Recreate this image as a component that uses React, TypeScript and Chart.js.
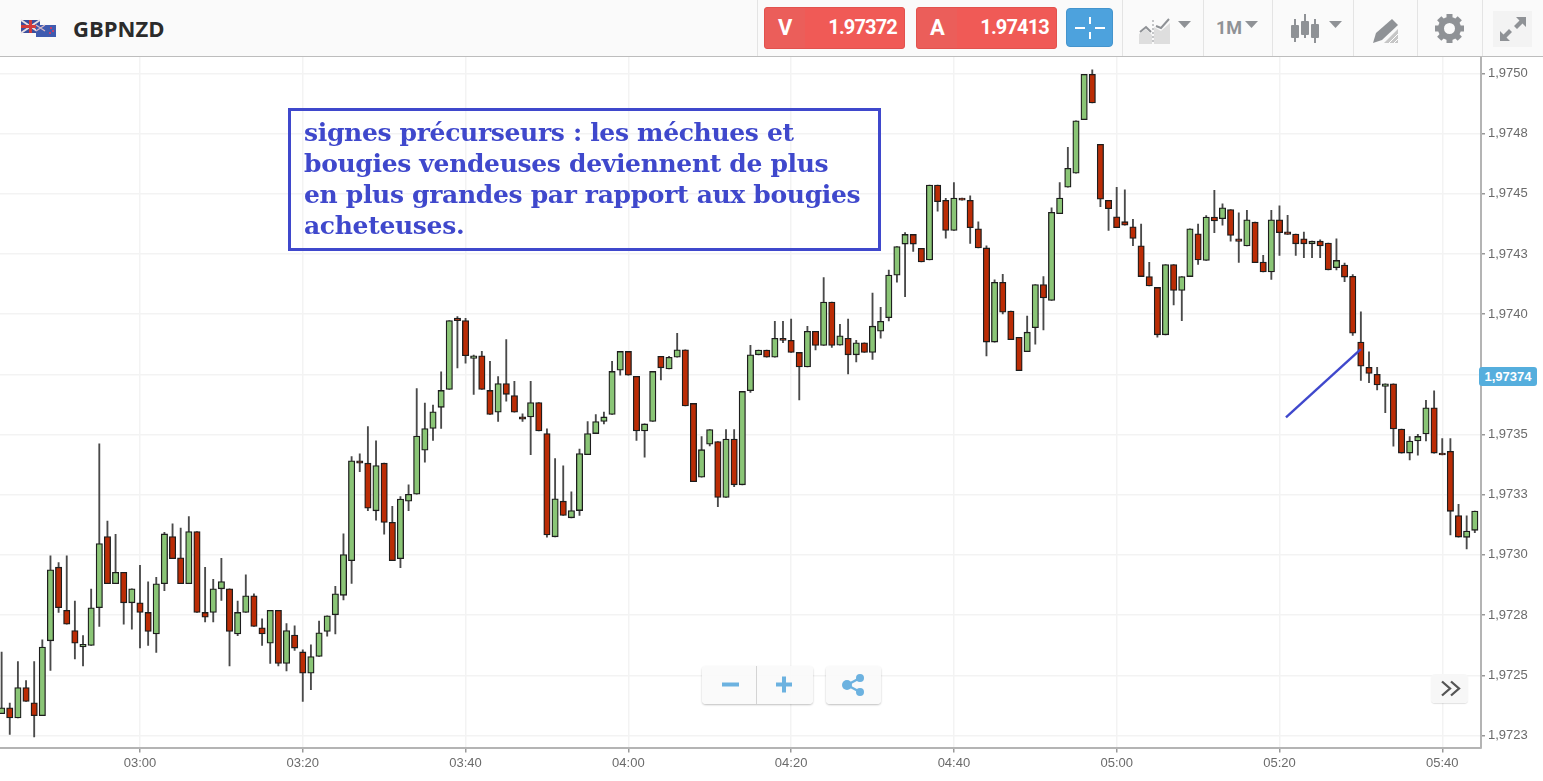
import React, { useEffect, useRef } from "react";
import { Chart, registerables } from "chart.js";

Chart.register(...registerables);

const firstMinute = 163;
const opens = [
1.972340,1.972365,1.972323,1.972449,1.972386,1.972332,1.972643,1.972949,1.972770,1.972686,
1.972618,1.972624,1.972781,1.973076,1.972880,1.972928,1.972801,1.972801,1.972761,1.972672,
1.972880,1.973076,1.972988,1.972880,1.973097,1.972761,1.972761,1.972859,1.972859,1.972672,
1.972761,1.972830,1.972697,1.972633,1.972770,1.972549,1.972667,1.972597,1.972509,1.972578,
1.972682,1.972751,1.972832,1.972976,1.973391,1.973381,1.973183,1.973381,1.973135,1.972984,
1.973223,1.973252,1.973435,1.973525,1.973613,1.973687,1.973984,1.973973,1.973816,1.973827,
1.973683,1.973593,1.973712,1.973662,1.973573,1.973573,1.973633,1.973504,1.973075,1.973223,
1.973154,1.973184,1.973416,1.973504,1.973554,1.973583,1.973767,1.973845,1.973742,1.973515,
1.973554,1.973825,1.973772,1.973821,1.973852,1.973629,1.973323,1.973460,1.973471,1.973239,
1.973481,1.973291,1.973682,1.973831,1.973851,1.973821,1.973900,1.973891,1.973841,1.973781,
1.973929,1.973870,1.974050,1.973871,1.973900,1.973831,1.973881,1.973841,1.973929,1.973985,
1.974162,1.974291,1.974331,1.974273,1.974225,1.974536,1.974473,1.974348,1.974482,1.974473,
1.974354,1.974275,1.973884,1.974132,1.974013,1.973904,1.973844,1.973944,1.974123,1.974057,
1.974417,1.974527,1.974585,1.974808,1.974996,1.974705,1.974473,1.974404,1.974384,1.974363,
1.974284,1.974156,1.974111,1.973914,1.974206,1.974098,1.974156,1.974334,1.974223,1.974403,
1.974396,1.974434,1.974313,1.974283,1.974382,1.974216,1.974175,1.974392,1.974342,1.974333,
1.974313,1.974292,1.974303,1.974295,1.974193,1.974204,1.974157,1.973884,1.973779,1.973750,
1.973700,1.973711,1.973523,1.973423,1.973473,1.973502,1.973611,1.973423,1.973430,1.973163,
1.973073,1.973102];
const closes = [
1.972365,1.972323,1.972449,1.972391,1.972332,1.972617,1.972938,1.972781,1.972712,1.972633,
1.972628,1.972780,1.973047,1.972880,1.972928,1.972801,1.972859,1.972761,1.972682,1.972880,
1.973087,1.972984,1.972880,1.973097,1.972761,1.972741,1.972859,1.972889,1.972682,1.972761,
1.972830,1.972703,1.972672,1.972770,1.972549,1.972686,1.972613,1.972509,1.972578,1.972676,
1.972747,1.972838,1.973001,1.973391,1.973381,1.973194,1.973371,1.973135,1.972976,1.973232,
1.973252,1.973494,1.973525,1.973594,1.973683,1.973973,1.973973,1.973827,1.973827,1.973687,
1.973583,1.973712,1.973667,1.973593,1.973564,1.973633,1.973515,1.973083,1.973233,1.973164,
1.973184,1.973421,1.973504,1.973554,1.973573,1.973762,1.973845,1.973746,1.973515,1.973544,
1.973762,1.973777,1.973821,1.973852,1.973619,1.973304,1.973437,1.973521,1.973239,1.973481,
1.973291,1.973679,1.973831,1.973851,1.973821,1.973900,1.973891,1.973841,1.973781,1.973929,
1.973870,1.974050,1.973870,1.973910,1.973831,1.973881,1.973841,1.973950,1.973970,1.974162,
1.974281,1.974331,1.974291,1.974217,1.974536,1.974467,1.974348,1.974482,1.974473,1.974359,
1.974275,1.973884,1.974132,1.974008,1.973894,1.973765,1.973925,1.974123,1.974067,1.974423,
1.974482,1.974606,1.974803,1.974996,1.974877,1.974477,1.974438,1.974359,1.974369,1.974314,
1.974156,1.974117,1.973914,1.974206,1.974098,1.974156,1.974354,1.974225,1.974403,1.974387,
1.974442,1.974327,1.974302,1.974392,1.974214,1.974175,1.974392,1.974338,1.974331,1.974292,
1.974292,1.974303,1.974283,1.974184,1.974223,1.974154,1.973921,1.973784,1.973754,1.973706,
1.973711,1.973523,1.973423,1.973473,1.973492,1.973611,1.973423,1.973415,1.973181,1.973074,
1.973099,1.973182];
const highs = [
1.972596,1.972384,1.972557,1.972478,1.972557,1.972647,1.972996,1.972968,1.972996,1.972808,
1.972665,1.972858,1.973461,1.973140,1.973085,1.972928,1.972859,1.972957,1.972888,1.972907,
1.973094,1.973129,1.973111,1.973159,1.973097,1.972948,1.972898,1.972986,1.972859,1.972808,
1.972917,1.972838,1.972734,1.972770,1.972770,1.972715,1.972705,1.972606,1.972626,1.972725,
1.972747,1.972869,1.973087,1.973408,1.973420,1.973533,1.973474,1.973381,1.973202,1.973242,
1.973291,1.973691,1.973631,1.973622,1.973760,1.973973,1.973990,1.973983,1.973830,1.973845,
1.973804,1.973741,1.973894,1.973721,1.973586,1.973721,1.973633,1.973524,1.973400,1.973370,
1.973262,1.973439,1.973554,1.973583,1.973593,1.973804,1.973845,1.973845,1.973742,1.973544,
1.973762,1.973825,1.973825,1.973920,1.973852,1.973629,1.973491,1.973521,1.973471,1.973520,
1.973520,1.973679,1.973870,1.973851,1.973851,1.973970,1.973970,1.973979,1.973841,1.973949,
1.973929,1.974152,1.974050,1.973958,1.973979,1.973891,1.973881,1.974087,1.974028,1.974183,
1.974281,1.974339,1.974331,1.974273,1.974536,1.974536,1.974481,1.974546,1.974482,1.974491,
1.974383,1.974284,1.974142,1.974165,1.974013,1.973904,1.973992,1.974123,1.974156,1.974442,
1.974546,1.974693,1.974803,1.974996,1.975015,1.974705,1.974473,1.974527,1.974516,1.974394,
1.974374,1.974215,1.974111,1.974206,1.974206,1.974156,1.974354,1.974374,1.974409,1.974514,
1.974458,1.974434,1.974421,1.974431,1.974382,1.974244,1.974431,1.974450,1.974410,1.974333,
1.974341,1.974303,1.974309,1.974295,1.974313,1.974212,1.974164,1.974010,1.973843,1.973779,
1.973711,1.973711,1.973523,1.973491,1.973501,1.973642,1.973681,1.973483,1.973483,1.973210,
1.973162,1.973182];
const lows = [
1.972340,1.972254,1.972323,1.972391,1.972244,1.972332,1.972520,1.972761,1.972712,1.972568,
1.972539,1.972624,1.972703,1.972880,1.972880,1.972712,1.972691,1.972614,1.972624,1.972595,
1.972851,1.972984,1.972880,1.972880,1.972761,1.972722,1.972722,1.972811,1.972539,1.972664,
1.972761,1.972703,1.972624,1.972549,1.972539,1.972518,1.972603,1.972391,1.972440,1.972578,
1.972662,1.972672,1.972813,1.972882,1.973346,1.973184,1.973144,1.973086,1.972976,1.972947,
1.973184,1.973252,1.973385,1.973475,1.973525,1.973687,1.973777,1.973796,1.973667,1.973687,
1.973583,1.973554,1.973638,1.973593,1.973554,1.973416,1.973515,1.973074,1.973075,1.973164,
1.973154,1.973164,1.973416,1.973504,1.973544,1.973583,1.973746,1.973746,1.973475,1.973406,
1.973554,1.973727,1.973772,1.973821,1.973619,1.973304,1.973323,1.973453,1.973200,1.973239,
1.973283,1.973291,1.973675,1.973831,1.973821,1.973821,1.973881,1.973841,1.973644,1.973781,
1.973851,1.973870,1.973862,1.973871,1.973752,1.973801,1.973841,1.973812,1.973900,1.973972,
1.974133,1.974073,1.974260,1.974217,1.974225,1.974428,1.974315,1.974348,1.974473,1.974294,
1.974275,1.973826,1.973884,1.974001,1.973894,1.973765,1.973844,1.973875,1.973934,1.974057,
1.974417,1.974527,1.974585,1.974808,1.974877,1.974446,1.974348,1.974359,1.974369,1.974284,
1.974156,1.974117,1.973904,1.973914,1.974038,1.973973,1.974156,1.974206,1.974223,1.974338,
1.974369,1.974303,1.974215,1.974283,1.974214,1.974175,1.974144,1.974244,1.974331,1.974244,
1.974234,1.974234,1.974234,1.974184,1.974184,1.974135,1.973912,1.973725,1.973715,1.973685,
1.973591,1.973452,1.973423,1.973394,1.973414,1.973473,1.973423,1.973415,1.973083,1.973074,
1.973025,1.973092];

const xTickMinutes = [180, 200, 220, 240, 260, 280, 300, 320, 340];
const xTickLabels = ["03:00", "03:20", "03:40", "04:00", "04:20", "04:40", "05:00", "05:20", "05:40"];
const yTickValues = [1.97225, 1.9725, 1.97275, 1.973, 1.97325, 1.9735, 1.97375, 1.974, 1.97425, 1.9745, 1.97475, 1.975];
const yTickLabels = ["1,9723", "1,9725", "1,9728", "1,9730", "1,9733", "1,9735", "1,9738", "1,9740", "1,9743", "1,9745", "1,9748", "1,9750"];
const trendMinutes = [320.8, 330];
const trendPrices = [1.973571, 1.973855];

const GREEN = "#8ac576";
const RED = "#bb2c05";
const ACCENT = "#3f48cc";
const GREY = "#8f9296";

const box = (l: number, t: number, w: number, h: number, extra: React.CSSProperties = {}): React.CSSProperties => ({
  position: "absolute", left: l, top: t, width: w, height: h, boxSizing: "border-box", ...extra,
});

function Caret({ x, y }: { x: number; y: number }) {
  return <svg style={box(x, y, 13, 7)} viewBox="0 0 13 7"><path d="M0 0H13L6.5 7Z" fill={GREY} /></svg>;
}
function Sep({ x }: { x: number }) {
  return <div style={box(x, 0, 1, 56, { background: "#e4e4e4" })} />;
}

function PriceButton({ x, w, letter, value }: { x: number; w: number; letter: string; value: string }) {
  return (
    <div style={box(x, 7, w, 42, { background: "#f05a56", borderRadius: 3, border: "1px solid #e2524e", color: "#fff", fontFamily: "Roboto, sans-serif" })}>
      <div style={box(0, 0, 40, 40, { background: "#eb5e5a", borderRadius: "3px 0 0 3px" })} />
      <span style={{ position: "absolute", left: 13, top: 7, fontSize: 22, fontWeight: 700 }}>{letter}</span>
      <span style={{ position: "absolute", right: 7, top: 7, fontSize: 20, fontWeight: 700, letterSpacing: -0.85 }}>{value}</span>
    </div>
  );
}

export default function App() {
  const ref = useRef<HTMLCanvasElement>(null);
  useEffect(() => {
    const minutes = opens.map((_, i) => firstMinute + i);
    const chart = new Chart(ref.current!, {
      type: "bar",
      data: {
        datasets: [
          {
            type: "line",
            data: trendMinutes.map((x, i) => ({ x, y: trendPrices[i] })),
            borderColor: ACCENT, borderWidth: 2.4, pointRadius: 0, order: 0,
          },
          {
            data: minutes.map((x, i) => ({ x, y: [opens[i], closes[i]] })),
            backgroundColor: opens.map((o, i) => (closes[i] >= o ? GREEN : RED)),
            borderColor: "#1d1d1d", borderWidth: 1.3, borderSkipped: false,
            barThickness: 6.4, grouped: false, order: 1,
          },
          {
            data: minutes.map((x, i) => ({ x, y: [lows[i], highs[i]] })),
            backgroundColor: "#4a4a4a", borderWidth: 0,
            barThickness: 1.2, grouped: false, order: 2,
          },
        ] as any,
      },
      options: {
        animation: false,
        responsive: false,
        events: [],
        layout: { padding: { top: 57, left: 0, right: 0, bottom: 0 } },
        plugins: { legend: { display: false }, tooltip: { enabled: false } },
        scales: {
          x: {
            type: "linear", min: 162.8, max: 344.76, offset: false,
            afterBuildTicks: (s: any) => { s.ticks = xTickMinutes.map((value) => ({ value })); },
            afterFit: (s: any) => { s.height = 33.5; },
            ticks: {
              autoSkip: false, maxRotation: 0, color: "#6b6b6b", padding: 3,
              font: { family: "Liberation Sans", size: 13 },
              callback: (_: any, i: number) => xTickLabels[i],
            },
            grid: { offset: false, color: "#f3f3f3", lineWidth: 1.5, tickColor: "#999", tickLength: 5 },
            border: { color: "#b4b4b4", width: 2 },
          },
          y: {
            type: "linear", position: "right", min: 1.9722, max: 1.975068,
            afterBuildTicks: (s: any) => { s.ticks = yTickValues.map((value) => ({ value })); },
            afterFit: (s: any) => { s.width = 62; },
            ticks: {
              autoSkip: false, color: "#6b6b6b", padding: 3,
              font: { family: "Liberation Sans", size: 13 },
              callback: (_: any, i: number) => yTickLabels[i],
            },
            grid: { color: "#f3f3f3", lineWidth: 1.5, tickColor: "#999", tickLength: 4 },
            border: { color: "#b4b4b4", width: 2 },
          },
        },
      } as any,
    });
    return () => chart.destroy();
  }, []);

  return (
    <div style={{ position: "fixed", left: 0, top: 0, width: 1543, height: 781, overflow: "hidden", background: "#fff" }}>
      <canvas ref={ref} width={1543} height={781} style={{ position: "absolute", left: 0, top: 0, width: 1543, height: 781 }} />

      {/* header */}
      <div style={box(0, 0, 1543, 57, { background: "#fafafa", borderBottom: "1.5px solid #bdbdbd" })}>
        <svg style={box(20, 19, 37, 19)} viewBox="0 0 37 19">
          <rect x="1" y="1" width="19" height="13" fill="#3b4f9e" />
          <path d="M1 1L20 14M20 1L1 14" stroke="#e8dfe3" strokeWidth="2" />
          <path d="M10.5 1V14M1 7.5H20" stroke="#d23b3b" strokeWidth="3" />
          <rect x="16" y="6" width="20" height="12" fill="#3f5bb0" />
          <path d="M16 6L25 12M25 6L16 12" stroke="#d8b8c4" strokeWidth="1.3" />
          <circle cx="31" cy="9" r="1" fill="#e35" /><circle cx="33" cy="12" r="1" fill="#e35" /><circle cx="30" cy="14" r="1" fill="#e35" />
        </svg>
        <span style={{ position: "absolute", left: 73, top: 13, fontFamily: "Open Sans", fontWeight: 700, fontSize: 22, color: "#2b2b2b" }}>GBPNZD</span>
        <Sep x={757} /><Sep x={1122} /><Sep x={1203} /><Sep x={1272} /><Sep x={1353} /><Sep x={1417} /><Sep x={1482} />
        <PriceButton x={764} w={141} letter="V" value="1.97372" />
        <PriceButton x={916} w={141} letter="A" value="1.97413" />
        <div style={box(1066, 8, 47, 39, { background: "#4da2dd", borderRadius: 4, border: "1px solid #4494cd" })}>
          <svg style={box(7, 7, 32, 24)} viewBox="0 0 32 24">
            <path d="M1 12H11M21 12H31M16 1V8M16 16V23" stroke="#fff" strokeWidth="2" />
          </svg>
        </div>
        {/* chart type icon */}
        <svg style={box(1139, 17, 32, 27)} viewBox="0 0 32 27">
          <path d="M0 27V17L7 12L13 18V27Z M15 27V10L22 14L31 6V27Z" fill="#dedede" />
          <path d="M1 15L7 10L12 15M17 9L22 11L30 2" stroke={GREY} strokeWidth="2" fill="none" />
          <path d="M14 3V27" stroke={GREY} strokeWidth="1" strokeDasharray="2 2" />
        </svg>
        <Caret x={1178} y={21} />
        <span style={{ position: "absolute", left: 1216, top: 17, fontFamily: "Roboto", fontWeight: 700, fontSize: 18, color: GREY }}>1M</span>
        <Caret x={1245} y={21} />
        <svg style={box(1291, 14, 28, 30)} viewBox="0 0 28 30">
          <path d="M4 5V28M14 0V24M24 5V29" stroke={GREY} strokeWidth="2" />
          <rect x="0" y="11" width="8" height="13" rx="1" fill={GREY} />
          <rect x="10" y="7" width="8" height="14" rx="1" fill={GREY} />
          <rect x="20" y="10" width="8" height="14" rx="1" fill={GREY} />
        </svg>
        <Caret x={1329} y={21} />
        <svg style={box(1372, 18, 28, 25)} viewBox="0 0 28 25">
          <path d="M1 25L4 15L20 1L26 7L10 22Z" fill={GREY} />
          <path d="M12 25L26 11V25Z" fill="#c6c6c6" />
          <path d="M17 25L26 16M22 25L26 21" stroke="#fff" strokeWidth="1" />
        </svg>
        <svg style={box(1435, 14, 29, 29)} viewBox="-14.5 -14.5 29 29">
          <circle r="8.5" fill="none" stroke={GREY} strokeWidth="6" />
          {[0, 45, 90, 135, 180, 225, 270, 315].map((a) => (
            <rect key={a} x="-3" y="-14.5" width="6" height="5" fill={GREY} transform={`rotate(${a})`} />
          ))}
        </svg>
        <div style={box(1493, 11, 39, 36, { background: "#f3f3f3" })}>
          <svg style={box(6, 4, 28, 28)} viewBox="0 0 28 28">
            <path d="M17 2H27V12L23.5 8.5L18 14L15 11L20.5 5.5Z M11 26H1V16L4.5 19.5L10 14L13 17L7.5 22.5Z" fill={GREY} />
          </svg>
        </div>
      </div>

      {/* annotation */}
      <div style={box(288, 108, 593, 143, { border: `3px solid ${ACCENT}` })}>
        <div style={{ position: "absolute", left: 13, top: 6, whiteSpace: "pre", fontFamily: "'DejaVu Serif', serif", fontWeight: 700, fontSize: 25, lineHeight: "31px", color: ACCENT, letterSpacing: -0.33 }}>
          {"signes précurseurs : les méchues et\nbougies vendeuses deviennent de plus\nen plus grandes par rapport aux bougies\nacheteuses."}
        </div>
      </div>

      {/* current price */}
      <div style={box(1479, 367, 58, 19, { background: "#55aedd", borderRadius: 3, color: "#fff", fontFamily: "Liberation Sans", fontWeight: 700, fontSize: 13, textAlign: "center", lineHeight: "19px" })}>1,97374</div>

      {/* zoom controls */}
      <div style={box(702, 666, 111, 38, { background: "rgba(250,250,250,.92)", borderRadius: 4, boxShadow: "0 1px 2px rgba(0,0,0,.25)" })}>
        <div style={box(54, 0, 1, 38, { background: "#d4d4d4" })} />
        <svg style={box(0, 0, 111, 38)} viewBox="0 0 111 38">
          <path d="M20 18.5H37M74 18.5H90M82 10.5V26.5" stroke="#6cb2e0" strokeWidth="4" />
        </svg>
      </div>
      <div style={box(826, 666, 55, 38, { background: "rgba(250,250,250,.92)", borderRadius: 4, boxShadow: "0 1px 2px rgba(0,0,0,.25)" })}>
        <svg style={box(15, 7, 24, 24)} viewBox="0 0 24 24">
          <path d="M6 12L19 5M6 12L19 19" stroke="#6cb2e0" strokeWidth="2.5" />
          <circle cx="6" cy="12" r="5" fill="#6cb2e0" /><circle cx="19" cy="5" r="4" fill="#6cb2e0" /><circle cx="19" cy="19" r="4" fill="#6cb2e0" />
        </svg>
      </div>
      <div style={box(1431, 674, 37, 29, { background: "rgba(247,247,247,.95)", borderRadius: 4, boxShadow: "0 1px 1px rgba(0,0,0,.12)" })}>
        <svg style={box(10, 6, 20, 17)} viewBox="0 0 20 17">
          <path d="M1 1.5L9 8.5L1 15.5M10 1.5L18 8.5L10 15.5" stroke="#555" strokeWidth="2.3" fill="none" />
        </svg>
      </div>
    </div>
  );
}
